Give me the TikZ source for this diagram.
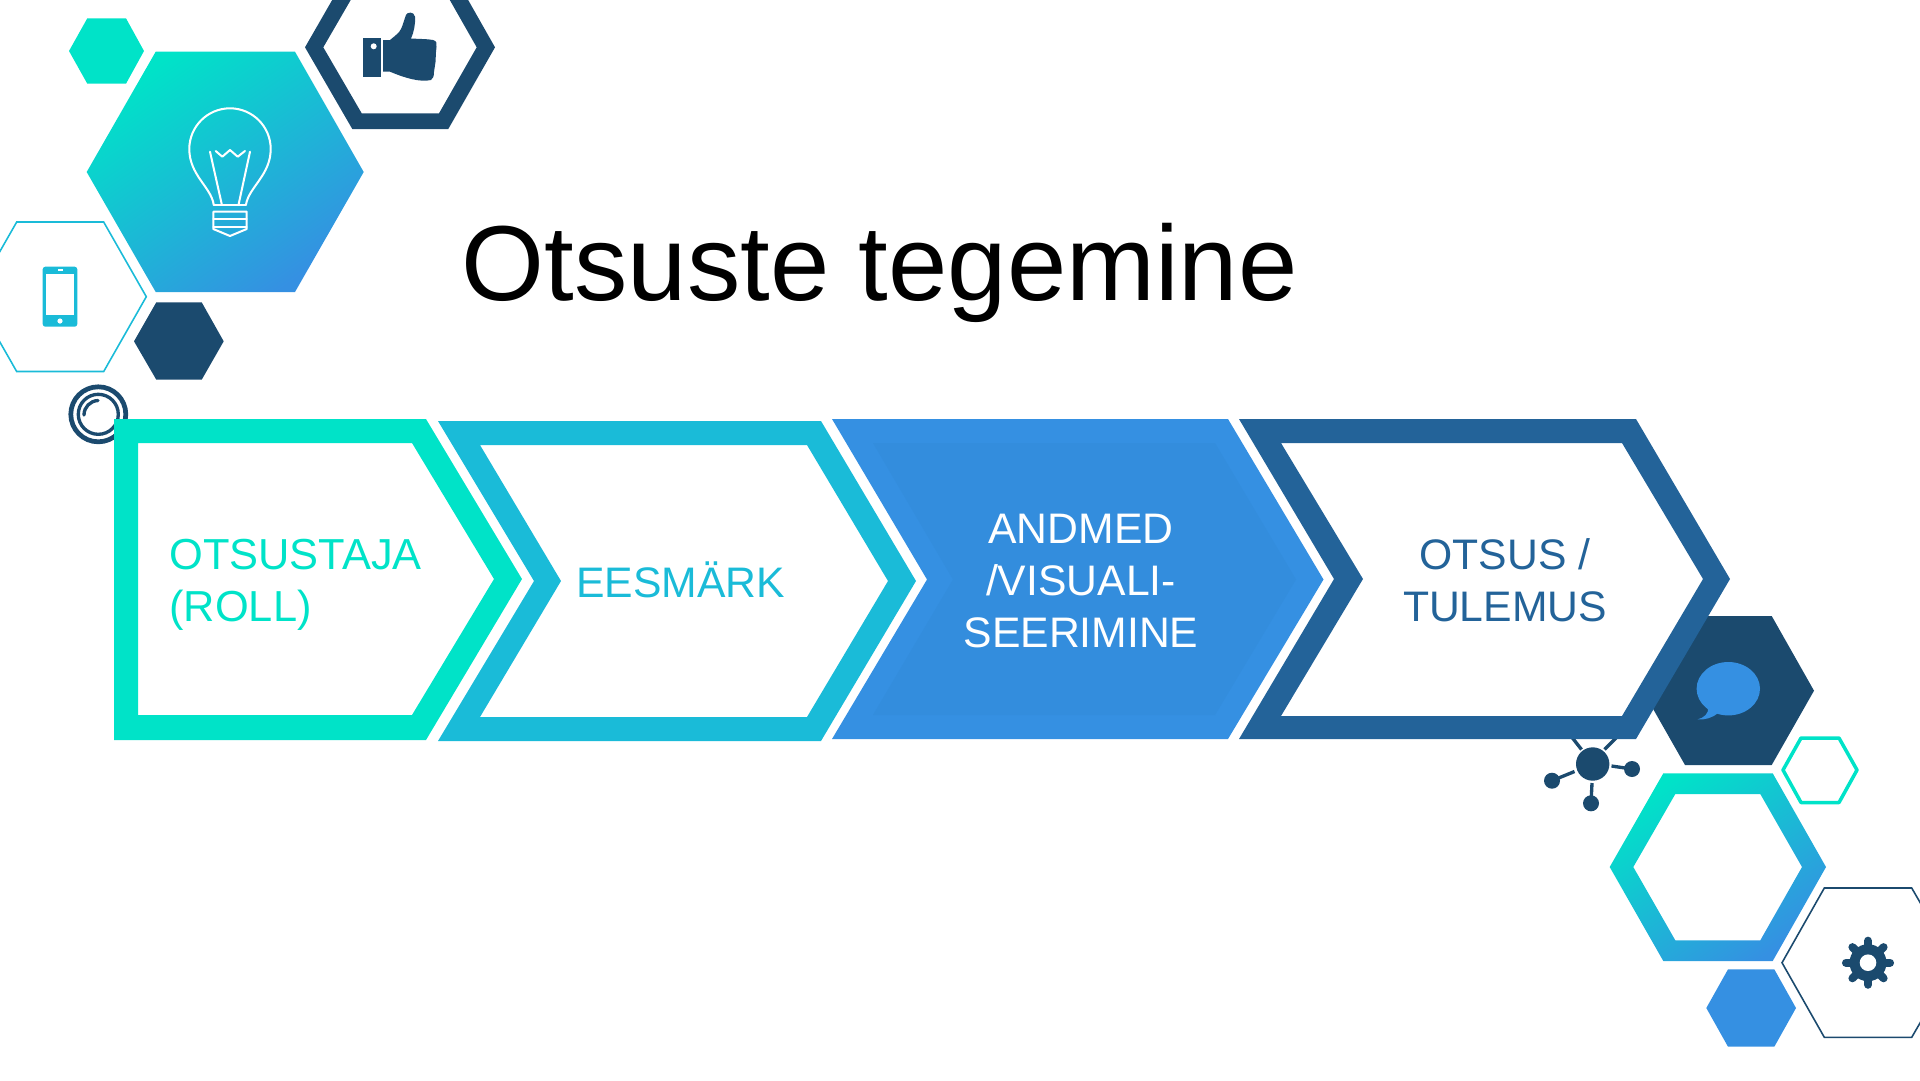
\documentclass[tikz,border=0pt]{standalone}
\usepackage{fontspec}
\setmainfont{Liberation Sans}
\definecolor{cteal}{HTML}{00E3C8}
\definecolor{ccyan}{HTML}{1ABBD8}
\definecolor{cblue}{HTML}{3590E2}
\definecolor{cblueb}{HTML}{338DDD}
\definecolor{cdark}{HTML}{1B4A6E}
\definecolor{csteel}{HTML}{236399}
\tikzset{
  gradfill/.style={shade,top color=cteal,middle color=ccyan,bottom color=cblue,shading angle=35},
  labeltext/.style={inner sep=0pt,font=\fontsize{24.3}{29.4}\selectfont},
  bulbline/.style={draw=white,line width=1.15pt,line cap=round,line join=round},
  thinhex/.style={line width=0.9pt,line join=miter}
}
\begin{document}
\begin{tikzpicture}[x=0.02cm,y=0.02cm,yscale=-1]
\useasboundingbox (0,0) rectangle (1920,1080);
\begin{scope}
\clip (0,0) rectangle (1920,1080);
% top-left hexagons
\fill[cteal] (87.3,18.3)--(126,18.3)--(144,51)--(126,83.7)--(87.3,83.7)--(69,51)--cycle;
\path[gradfill] (155.7,51.7)--(295,51.7)--(363.7,172)--(295,292)--(155.7,292)--(86.7,172)--cycle;
\fill[cdark,even odd rule] (305,47.3)--(352.3,-35)--(448.3,-35)--(495,47.3)--(448.3,129)--(352.3,129)--cycle
  (323.3,47.3)--(361.7,-19)--(439,-19)--(476.7,47.3)--(439,113.3)--(361.7,113.3)--cycle;
\draw[ccyan,thinhex] (16.7,222)--(103.7,222)--(146.3,296.7)--(103.7,371.5)--(16.7,371.5)--(-26,296.7)--cycle;
\fill[cdark] (156.3,302.3)--(201.7,302.3)--(223.7,341.3)--(201.7,379.7)--(156.3,379.7)--(134,341.3)--cycle;
% thumb
\fill[cdark] (363,38.3) rectangle (380.7,77.3);
\fill[white] (373.7,46.3) circle (3);
\fill[cdark] (383,40)--(390,40) .. controls (396,35) and (399,33) .. (401,29) .. controls (403,25) and (404,20) .. (406,15)
  .. controls (407,12) and (414,11) .. (415,16.7) .. controls (415.5,24) and (414,32) .. (411,38.5)
  .. controls (420,39) and (428,39) .. (433,40) .. controls (437,41) and (437,44) .. (436.5,47)
  -- (436,52)--(435.5,62)--(434,72)
  .. controls (434,76) and (433,79) .. (431,80) .. controls (420,82.5) and (405,78) .. (390,71.7)--(383,71.7)--cycle;
% bulb
\draw[bulbline] (213.7,204.5) .. controls (211,187) and (189.3,175) .. (189.3,149)
  arc (180:360:40.7) .. controls (270.7,175) and (249,187) .. (246,204.5);
\draw[bulbline] (213.7,205)--(246,205);
\draw[bulbline] (210,151.7)--(221.7,204);
\draw[bulbline] (250,151.7)--(238.7,204);
\draw[bulbline] (215.7,151)--(222.3,156.7)--(230,150)--(237.7,156.7)--(245,151);
\draw[bulbline] (213.3,211.7)--(246.7,211.7)--(246.7,229)--(230,236)--(213.3,229)--cycle;
\draw[bulbline] (213.3,219)--(246.7,219);
\draw[bulbline] (213.3,226.7)--(246.7,226.7);
% phone
\fill[ccyan,rounded corners=1.5] (42.7,266.7) rectangle (77.3,326.7);
\fill[white] (46,274) rectangle (73.7,315.3);
\fill[white] (57.5,269) rectangle (62.5,271);
\fill[white] (60,321) circle (2.6);
% ring icon
\draw[cdark,line width=2.7pt] (98.3,414.3) circle (27.5);
\draw[cdark,line width=1.9pt] (98.3,414.3) circle (20);
\draw[cdark,line width=1.9pt,line cap=round] (84,415) arc (180:268:14.5);
% right-side hexagons
\fill[cdark] (1685,616)--(1771.7,616)--(1814,690.7)--(1771.7,765)--(1685,765)--(1642.7,690.7)--(1685,616)--cycle;
\fill[cblue] (1728.3,688.7) ellipse (31.7 and 26.7);
\fill[cblue] (1708,708) .. controls (1709,713) and (1704,718) .. (1697.7,719.3) .. controls (1705,720) and (1712,718) .. (1718,713)--cycle;
\draw[cteal,line width=2pt,line join=round] (1801,738)--(1839,738)--(1857,770)--(1839,802.5)--(1801,802.5)--(1783,770)--cycle;
\path[gradfill,even odd rule] (1663.3,773.3)--(1772.7,773.3)--(1826,867)--(1772.7,961)--(1663.3,961)--(1609.7,867)--cycle
  (1675.3,794)--(1760.3,794)--(1802,867)--(1760.3,940.3)--(1675.3,940.3)--(1633.3,867)--cycle;
\fill[cblue] (1728,969.3)--(1774.3,969.3)--(1796,1008)--(1774.3,1046.7)--(1728,1046.7)--(1706.3,1008)--cycle;
\draw[cdark,thinhex] (1824.3,888)--(1911.7,888)--(1955,962.7)--(1911.7,1037.3)--(1824.3,1037.3)--(1782,962.7)--cycle;
% gear
\fill[cdark] (1868,962.7) circle (18.5);
\foreach \a in {0,45,...,315}
  \draw[cdark,line width=4.6pt,line cap=round] (1868,962.7)--++(\a:22);
\fill[white] (1868,962.7) circle (8.3);
% molecule
\fill[cdark] (1592.7,764) circle (16.7);
\fill[cdark] (1552,780.7) circle (8);
\fill[cdark] (1632,769) circle (8);
\fill[cdark] (1591,803.3) circle (8);
\draw[cdark,line width=1.9pt] (1574.5,771.5)--(1552,780.7);
\draw[cdark,line width=1.9pt] (1611.5,766)--(1632,769);
\draw[cdark,line width=1.9pt] (1592,783)--(1591,803.3);
\draw[cdark,line width=1.9pt] (1581.5,749.5)--(1571.7,737);
\draw[cdark,line width=1.9pt] (1604.5,749.5)--(1616,738);
\end{scope}
% chevrons
\fill[cteal,even odd rule] (114,419)--(426,419)--(522,579)--(426,740)--(114,740)--cycle
  (138,443)--(412,443)--(494,579)--(412,715)--(138,715)--cycle;
\fill[ccyan,even odd rule] (438,421)--(821,421)--(916,581)--(821,741)--(438,741)--(534,581)--cycle
  (480,445)--(807,445)--(888,581)--(807,717)--(480,717)--(561,581)--cycle;
\fill[cblue] (832,419)--(1228,419)--(1323.5,579.5)--(1228,739)--(832,739)--(927,579.5)--cycle;
\fill[cblueb] (873,443)--(1215,443)--(1296,579.5)--(1215,715)--(873,715)--(953,579.5)--cycle;
\fill[csteel,even odd rule] (1239,419)--(1636,419)--(1730,579)--(1636,739)--(1239,739)--(1334,579)--cycle
  (1281,443)--(1622,443)--(1703,579)--(1622,716)--(1281,716)--(1363,579)--cycle;
% text
\node[anchor=base west,inner sep=0pt,font=\fontsize{60.7}{70}\selectfont] (title) at (461.5,300) {Otsuste tegemine};
\node[labeltext,font=\fontsize{24.7}{29.4}\selectfont,align=left,anchor=west,text=cteal] (role) at (169,584.5) {OTSUSTAJA\\(ROLL)};
\node[labeltext,anchor=center,text=ccyan] (goal) at (680.5,579.5) {EESMÄRK};
\node[labeltext,align=center,anchor=center,text=white] (data) at (1081,581) {ANDMED\\/VISUALI-\\SEERIMINE};
\node[labeltext,align=center,anchor=center,text=csteel] (result) at (1505,580.5) {OTSUS /\\TULEMUS};
\end{tikzpicture}
\end{document}
